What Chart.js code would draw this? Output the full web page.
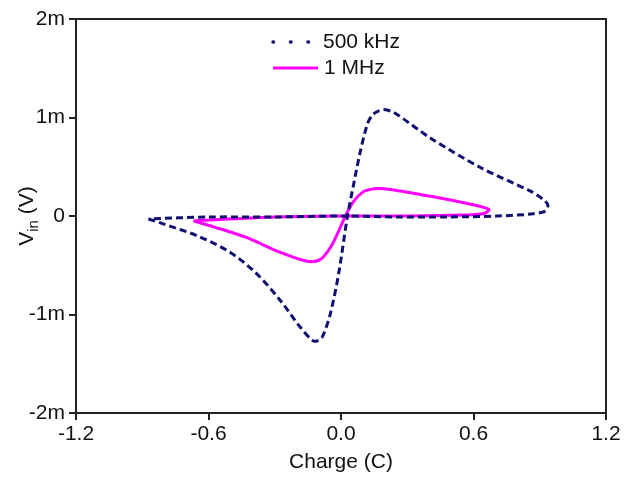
<!DOCTYPE html>
<html>
<head>
<meta charset="utf-8">
<script src="https://cdn.jsdelivr.net/npm/chart.js@4/dist/chart.umd.min.js"></script>
<style>
  html, body { margin: 0; padding: 0; background: #fff; }
  #wrap { width: 635px; height: 479px; }
</style>
</head>
<body>
<div id="wrap"><canvas id="chart"></canvas></div>
<script>
// 500 kHz loop: charge (C) and input voltage (mV)
const charge500 = [-0.872, -0.805, -0.652, -0.501, -0.380, -0.274, -0.184, -0.131, -0.110, -0.085, -0.048, -0.011, 0.028, 0.057, 0.088, 0.119, 0.140, 0.164, 0.194, 0.240, 0.406, 0.633, 0.860, 0.915, 0.937, 0.925, 0.860, 0.709, 0.482, 0.255, 0.020, -0.300, -0.600, -0.872];
const volt500 = [-0.03, -0.08, -0.20, -0.37, -0.59, -0.86, -1.13, -1.26, -1.27, -1.23, -0.99, -0.59, -0.02, 0.32, 0.66, 0.93, 1.02, 1.06, 1.08, 1.05, 0.79, 0.49, 0.25, 0.17, 0.11, 0.05, 0.02, 0.00, -0.01, -0.01, 0.00, -0.01, -0.01, -0.03];

// 1 MHz loop
const charge1M = [-0.668, -0.577, -0.426, -0.274, -0.153, -0.093, -0.048, -0.010, 0.020, 0.058, 0.103, 0.134, 0.164, 0.225, 0.406, 0.588, 0.650, 0.671, 0.648, 0.557, 0.300, 0.020, -0.300, -0.668];
const volt1M = [-0.05, -0.11, -0.22, -0.37, -0.46, -0.44, -0.32, -0.15, 0.00, 0.15, 0.25, 0.27, 0.28, 0.27, 0.20, 0.12, 0.085, 0.065, 0.025, 0.01, 0.00, 0.00, -0.01, -0.05];

const xTicks = [-1.2, -0.6, 0.0, 0.6, 1.2];
const yTicks = [-2, -1, 0, 1, 2];

const FONT = 'Liberation Sans, Arial, sans-serif';

function toPoints(xs, ys) {
    return xs.map((x, i) => ({ x: x, y: ys[i] }));
}

// frame around the plot area, legend and the subscripted y title
const extras = {
    id: 'extras',
    afterDraw(chart) {
        const ctx = chart.ctx;
        const a = chart.chartArea;
        ctx.save();
        ctx.strokeStyle = '#222';
        ctx.lineWidth = 2;
        ctx.strokeRect(a.left, a.top, a.right - a.left, a.bottom - a.top);

        // legend
        ctx.font = '21px ' + FONT;
        ctx.fillStyle = '#111';
        ctx.textBaseline = 'middle';
        ctx.lineCap = 'round';
        ctx.strokeStyle = '#101070';
        ctx.lineWidth = 3.5;
        ctx.setLineDash([0.5, 17]);
        ctx.beginPath();
        ctx.moveTo(273, 42);
        ctx.lineTo(310, 42);
        ctx.stroke();
        ctx.setLineDash([]);
        ctx.lineCap = 'butt';
        ctx.fillText('500 kHz', 323, 42);
        ctx.strokeStyle = '#ff00ff';
        ctx.lineWidth = 3;
        ctx.beginPath();
        ctx.moveTo(273, 68);
        ctx.lineTo(318, 68);
        ctx.stroke();
        ctx.fillText('1 MHz', 324, 68);

        // y title: V_in (V)
        ctx.translate(27, 216);
        ctx.rotate(-Math.PI / 2);
        const big = '21px ' + FONT;
        const small = '15px ' + FONT;
        ctx.font = big;
        const wV = ctx.measureText('V').width;
        const wTail = ctx.measureText(' (V)').width;
        ctx.font = small;
        const wSub = ctx.measureText('in').width;
        let x = -(wV + wSub + wTail) / 2;
        ctx.textAlign = 'left';
        ctx.font = big;
        ctx.fillText('V', x, 0);
        x += wV;
        ctx.font = small;
        ctx.fillText('in', x, 7);
        x += wSub;
        ctx.font = big;
        ctx.fillText(' (V)', x, 0);
        ctx.restore();
    }
};

new Chart(document.getElementById('chart'), {
    type: 'scatter',
    data: {
        datasets: [
            {
                label: '500 kHz',
                data: toPoints(charge500, volt500),
                showLine: true,
                borderColor: '#101070',
                borderWidth: 3,
                borderDash: [7, 4],
                pointRadius: 0,
                tension: 0.3,
                fill: false
            },
            {
                label: '1 MHz',
                data: toPoints(charge1M, volt1M),
                showLine: true,
                borderColor: '#ff00ff',
                borderWidth: 3,
                pointRadius: 0,
                tension: 0.3,
                fill: false
            }
        ]
    },
    options: {
        responsive: true,
        maintainAspectRatio: false,
        animation: false,
        layout: { padding: { left: 0, top: 19, right: 29, bottom: 0 } },
        plugins: {
            legend: { display: false },
            tooltip: { enabled: false }
        },
        scales: {
            x: {
                type: 'linear',
                min: -1.2,
                max: 1.2,
                afterBuildTicks: (scale) => { scale.ticks = xTicks.map(v => ({ value: v })); },
                afterFit: (scale) => { scale.height = 66; },
                ticks: {
                    color: '#111',
                    font: { family: FONT, size: 21 },
                    padding: 2,
                    maxRotation: 0,
                    callback: (v) => Number(v).toFixed(1)
                },
                grid: { drawOnChartArea: false, tickLength: 7, color: '#222', lineWidth: 2 },
                border: { color: '#222', width: 2 },
                title: {
                    display: true,
                    text: 'Charge (C)',
                    color: '#111',
                    font: { family: FONT, size: 21 },
                    padding: { top: 0 }
                }
            },
            y: {
                type: 'linear',
                min: -2,
                max: 2,
                afterBuildTicks: (scale) => { scale.ticks = yTicks.map(v => ({ value: v })); },
                afterFit: (scale) => { scale.width = 76; },
                ticks: {
                    color: '#111',
                    font: { family: FONT, size: 21 },
                    padding: 4,
                    callback: (v) => v === 0 ? '0' : v + 'm'
                },
                grid: { drawOnChartArea: false, tickLength: 7, color: '#222', lineWidth: 2 },
                border: { color: '#222', width: 2 }
            }
        }
    },
    plugins: [extras]
});
</script>
</body>
</html>
